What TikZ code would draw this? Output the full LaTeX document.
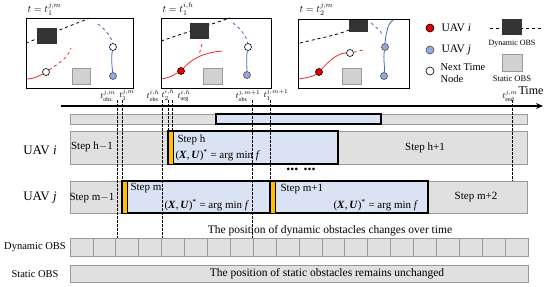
\documentclass[tikz,border=0pt]{standalone}
\usepackage{fontspec}
\setmainfont{Liberation Serif}
\usetikzlibrary{arrows.meta}

\definecolor{cellgray}{rgb}{0.88,0.88,0.88}
\definecolor{cellborder}{rgb}{0.6,0.6,0.6}
\definecolor{planblue}{rgb}{0.855,0.89,0.953}
\definecolor{solvebar}{rgb}{1.0,0.753,0.0}
\definecolor{uavired}{rgb}{0.9,0.0,0.0}
\definecolor{uavjblue}{rgb}{0.56,0.667,0.863}
\definecolor{obsdark}{rgb}{0.2,0.2,0.2}
\definecolor{obslight}{rgb}{0.82,0.82,0.82}
\definecolor{curvered}{rgb}{0.95,0.15,0.15}
\definecolor{curveblue}{rgb}{0.27,0.42,0.72}

\tikzset{
  nextnode/.style={circle,draw=black,fill=white,line width=0.6pt,inner sep=0pt,minimum size=7pt},
  uavidot/.style={circle,draw=black,fill=uavired,line width=0.6pt,inner sep=0pt,minimum size=7pt},
  uavjdot/.style={circle,draw=black!70,fill=uavjblue,line width=0.6pt,inner sep=0pt,minimum size=7pt},
  redpath/.style={curvered,line width=0.8pt},
  bluepath/.style={curveblue,line width=0.8pt},
  obspath/.style={black,dashed,line width=0.8pt},
  tline/.style={black,dash pattern=on 2.5pt off 1.5pt,line width=0.6pt},
  graybar/.style={draw=cellborder,fill=cellgray,line width=0.8pt},
  bluebar/.style={draw=black,fill=planblue,line width=1.2pt},
  orangebar/.style={draw=black,fill=solvebar,line width=0.6pt},
  steptext/.style={font=\fontsize{11}{13}\selectfont},
  stamp/.style={font=\fontsize{8.5}{10}\selectfont,inner sep=0pt}
}

\begin{document}
\begin{tikzpicture}[x=1pt,y=-1pt]
\useasboundingbox (0,0) rectangle (550,287);

\node[anchor=west,font=\fontsize{10}{11}\selectfont] (title1) at (24,9) {$t=t_1^{j,m}$};
\draw[obspath] (26,43) -- (90,18);
\fill[obsdark] (37,28) rectangle (57,44);
\draw[cellborder,fill=obslight,line width=0.6pt] (72,68) rectangle (90,84);
\node[nextnode] (ainext) at (46,72) {};
\draw[redpath] (26,79) .. controls (34,79) and (39,76) .. (ainext);
\draw[redpath,dashed] (ainext) .. controls (58,64) and (68,58) .. (71,48);
\node[nextnode] (ajnext) at (113,47) {};
\node[uavjdot] (ajnow) at (113,76) {};
\draw[bluepath,dashed] (98,24) .. controls (106,30) and (112,38) .. (ajnext);
\draw[bluepath] (ajnext) .. controls (111,58) and (112,66) .. (ajnow);
\draw[black,line width=0.6pt] (26,18) rectangle (133,88);

\node[anchor=west,font=\fontsize{10}{11}\selectfont] (title2) at (159,9) {$t=t_1^{i,h}$};
\draw[obspath] (161,41) -- (230,18);
\fill[obsdark] (190,23) rectangle (209,39);
\draw[cellborder,fill=obslight,line width=0.6pt] (203,68) rectangle (222,84);
\node[uavidot] (binow) at (181,71) {};
\draw[redpath] (161,79) .. controls (170,78) and (175,74) .. (binow);
\draw[redpath] (binow) .. controls (190,61) and (200,53) .. (222,51);
\draw[redpath,dashed] (202,44) -- (199,55);
\node[nextnode] (bjnext) at (248,47) {};
\node[uavjdot] (bjnow) at (247,75) {};
\draw[bluepath,dashed] (233,23) .. controls (241,29) and (247,37) .. (bjnext);
\draw[bluepath] (bjnext) .. controls (246,58) and (247,66) .. (bjnow);
\draw[black,line width=0.6pt] (161,18) rectangle (271,88);

\node[anchor=west,font=\fontsize{10}{11}\selectfont] (title3) at (296,9) {$t=t_2^{j,m}$};
\draw[obspath] (300,43) .. controls (320,38) and (338,35) .. (349,30);
\fill[obsdark] (349,19) rectangle (368,32);
\draw[cellborder,fill=obslight,line width=0.6pt] (342,68) rectangle (361,84);
\node[uavidot] (cinow) at (319,72) {};
\node[nextnode] (cinext) at (350,53) {};
\draw[redpath] (298,79) .. controls (307,78) and (314,76) .. (cinow);
\draw[redpath] (cinow) .. controls (330,60) and (338,53) .. (cinext);
\draw[redpath,dashed] (cinext) -- (363,50);
\node[uavjdot] (cjnext) at (385,47) {};
\node[uavjdot] (cjnow) at (384,76) {};
\draw[bluepath,dashed] (371,23) .. controls (376,27) and (380,30) .. (382,34);
\draw[bluepath] (393,20) .. controls (386,26) and (388,31) .. (386,35) .. controls (385,39) .. (cjnext);
\draw[bluepath] (cjnext) .. controls (383,58) and (385,66) .. (cjnow);
\draw[black,line width=0.6pt] (298,19) rectangle (409,88);

\node[uavidot,minimum size=8pt] (legi) at (430,28) {};
\node[anchor=west,font=\fontsize{11.5}{13}\selectfont] (legitext) at (438,28) {UAV \textit{i}};
\node[uavjdot,minimum size=8pt] (legj) at (430,50) {};
\node[anchor=west,font=\fontsize{11.5}{13}\selectfont] (legjtext) at (438,50) {UAV \textit{j}};
\node[nextnode,minimum size=8pt] (legnext) at (430,71) {};
\node[anchor=west,align=left,font=\fontsize{10.5}{12}\selectfont] (legnexttext) at (437,73) {Next Time\\Node};
\draw[obspath] (490,28) -- (541,28);
\fill[obsdark] (502,19) rectangle (522,35);
\node[font=\fontsize{8}{9.5}\selectfont] (legdyn) at (512,44) {Dynamic OBS};
\draw[cellborder,fill=obslight,line width=0.6pt] (502,54) rectangle (522,71);
\node[font=\fontsize{8.5}{10}\selectfont] (legstat) at (512,79) {Static OBS};

\draw[-{Stealth[length=7pt,width=6pt]},line width=1.6pt] (61,106) -- (543,106);
\node[font=\fontsize{12}{14}\selectfont] (timelabel) at (531,91) {Time};
\node[stamp] (s1) at (108,96) {$t^{j,m}_{\mathrm{obs}}$};
\node[stamp] (s2) at (127,95) {$t^{j,m}_{1}$};
\node[stamp] (s3) at (153,96) {$t^{i,h}_{\mathrm{obs}}$};
\node[stamp] (s4) at (168,95) {$t^{i,h}_{2}$};
\node[stamp] (s5) at (184,96) {$t^{i,h}_{\mathrm{arg}}$};
\node[stamp] (s6) at (248,96) {$t^{j,m+1}_{\mathrm{obs}}$};
\node[stamp] (s7) at (276,95) {$t^{j,m+1}_{1}$};
\node[stamp] (s8) at (510,96) {$t^{j,m}_{\mathrm{end}}$};

\draw[graybar] (70,114) rectangle (527,124);
\draw[bluebar] (216,114) rectangle (381,124);

\draw[graybar] (70,131) rectangle (527,164);
\draw[bluebar] (168,131) rectangle (338,164);
\draw[orangebar] (168,131) rectangle (173,164);
\node[steptext] (stephm) at (92,147) {Step h$-$1};
\node[steptext,anchor=west] (steph) at (174,140) {Step h};
\node[steptext,anchor=west] (opth) at (172,155) {(\textbf{\textit{X}},\,\textbf{\textit{U}})\textsuperscript{*} = arg min \textit{f}};
\node[steptext] (stephp) at (425,148) {Step h+1};

\node[font=\fontsize{16}{16}\selectfont] (moredots) at (301,169) {\textbf{... ...}};

\draw[graybar] (70,181) rectangle (527,213);
\draw[bluebar] (122,181) rectangle (270,213);
\draw[orangebar] (122,181) rectangle (127,213);
\draw[bluebar] (270,181) rectangle (428,213);
\draw[orangebar] (270,181) rectangle (275,213);
\node[steptext] (stepmm) at (92,198) {Step m$-$1};
\node[steptext,anchor=west] (stepm) at (127,188) {Step m};
\node[steptext,anchor=west] (optm) at (161,205) {(\textbf{\textit{X}},\,\textbf{\textit{U}})\textsuperscript{*} = arg min \textit{f}};
\node[steptext,anchor=west] (stepmp) at (277,189) {Step m+1};
\node[steptext,anchor=west] (optmp) at (330,205) {(\textbf{\textit{X}},\,\textbf{\textit{U}})\textsuperscript{*} = arg min \textit{f}};
\node[steptext] (stepmpp) at (476,197) {Step m+2};

\node[font=\fontsize{13}{15}\selectfont] (uavi) at (40,150) {UAV \textit{i}};
\node[font=\fontsize{13}{15}\selectfont] (uavj) at (40,198) {UAV \textit{j}};

\draw[tline] (117,100) -- (117,238);
\draw[tline] (122,100) -- (122,181);
\draw[tline] (162,100) -- (162,238);
\draw[tline] (168,100) -- (168,131);
\draw[tline] (172,100) -- (172,131);
\draw[tline] (252,100) -- (252,238);
\draw[tline] (270,100) -- (270,181);
\draw[tline] (512,100) -- (512,181);

\node[font=\fontsize{11.5}{13}\selectfont] (dyntext) at (330,231) {The position of dynamic obstacles changes over time};
\node[font=\fontsize{10.5}{12}\selectfont] (dynlabel) at (35,247) {Dynamic OBS};
\draw[graybar] (70,238) rectangle (92.9,256);
\draw[graybar] (92.9,238) rectangle (115.8,256);
\draw[graybar] (115.8,238) rectangle (138.7,256);
\draw[graybar] (138.7,238) rectangle (161.6,256);
\draw[graybar] (161.6,238) rectangle (184.5,256);
\draw[graybar] (184.5,238) rectangle (207.4,256);
\draw[graybar] (207.4,238) rectangle (230.3,256);
\draw[graybar] (230.3,238) rectangle (253.2,256);
\draw[graybar] (253.2,238) rectangle (276.1,256);
\draw[graybar] (276.1,238) rectangle (299.0,256);
\draw[graybar] (299.0,238) rectangle (321.9,256);
\draw[graybar] (321.9,238) rectangle (344.8,256);
\draw[graybar] (344.8,238) rectangle (367.7,256);
\draw[graybar] (367.7,238) rectangle (390.6,256);
\draw[graybar] (390.6,238) rectangle (413.5,256);
\draw[graybar] (413.5,238) rectangle (436.4,256);
\draw[graybar] (436.4,238) rectangle (459.3,256);
\draw[graybar] (459.3,238) rectangle (482.2,256);
\draw[graybar] (482.2,238) rectangle (505.1,256);
\draw[graybar] (505.1,238) rectangle (528.0,256);

\node[font=\fontsize{10.5}{12}\selectfont] (statlabel) at (35,274) {Static OBS};
\draw[graybar] (70,265) rectangle (528,282);
\node[font=\fontsize{11.5}{13}\selectfont] (stattext) at (327,273.5) {The position of static obstacles remains unchanged};
\end{tikzpicture}
\end{document}
